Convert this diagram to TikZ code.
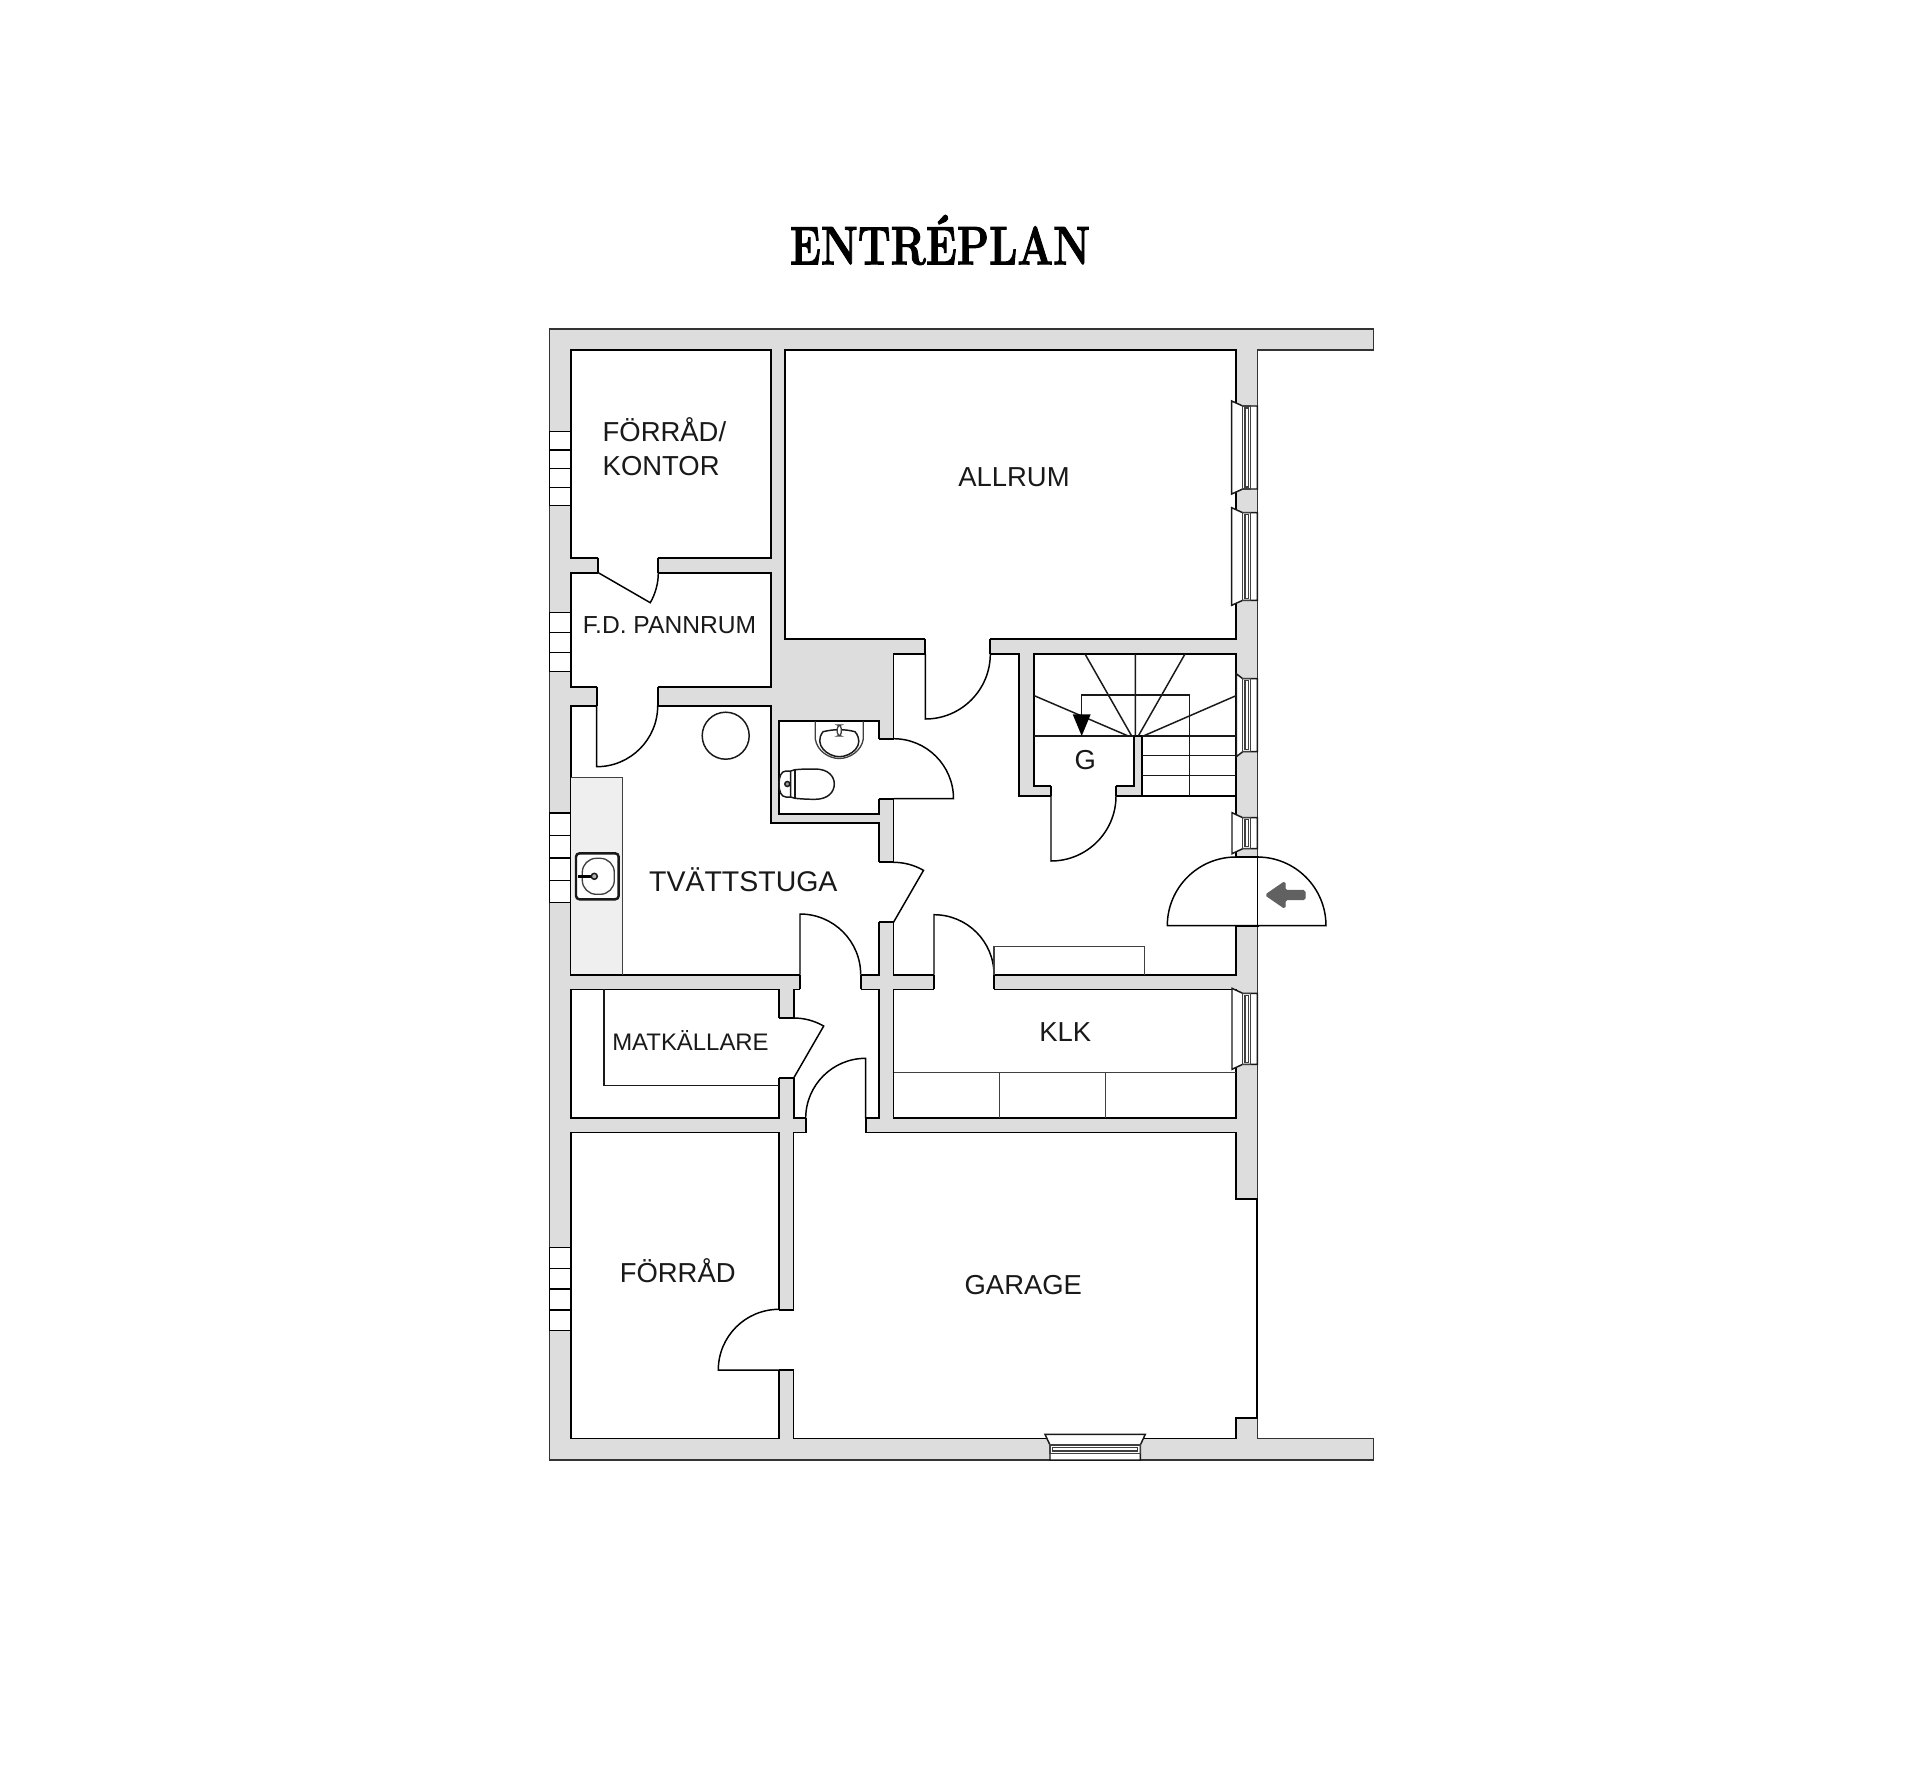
\documentclass[tikz,border=0pt]{standalone}
\usepackage{fontspec}
\setmainfont{Liberation Sans}
\newfontfamily\titlefont[BoldFeatures={FakeBold=2}]{Latin Modern Roman}
\usepackage{tikz}
\definecolor{wallgray}{HTML}{DDDDDD}
\definecolor{countergray}{HTML}{EFEFEF}
\tikzset{
  outerwall/.style={fill=wallgray, draw=black!80, line width=0.45pt},
  room/.style={fill=white, draw=black, line width=0.5pt, line join=miter},
  gap/.style={fill=white, draw=none},
  jamb/.style={draw=black, line width=0.5pt},
  door/.style={draw=black, line width=0.42pt},
  fixture/.style={draw=black!90, line width=0.42pt},
  thinline/.style={draw=black!75, line width=0.38pt},
  label/.style={font=\fontsize{7.8}{9.6}\selectfont, text=black!90, inner sep=0pt},
  smalllabel/.style={font=\fontsize{6.8}{8}\selectfont, text=black!90, inner sep=0pt},
}
\begin{document}
\begin{tikzpicture}[x=0.01cm, y=0.01cm, yscale=-1]
    \useasboundingbox (0,0) rectangle (1920,1787);
    % walls
    \draw[outerwall] (549.7,328.7) -- (1373.3,328.7) -- (1373.3,350) -- (1257.3,350) -- (1257.3,1438.5)
      -- (1373.3,1438.5) -- (1373.3,1460) -- (549.7,1460) -- cycle;
    % rooms
    \draw[room] (570.7,350) rectangle (770.7,558);
    \draw[room] (570.7,572.7) rectangle (770.7,686.7);
    \draw[room] (570.7,705.7) -- (770.7,705.7) -- (770.7,823) -- (879,823) -- (879,974.7) -- (570.7,974.7) -- cycle;
    \draw[room] (779,721.3) rectangle (879,814.3);
    \draw[room] (785,350) rectangle (1236,639.3);
    \draw[room] (893.5,654) -- (1019,654) -- (1019,795.7) -- (1236,795.7) -- (1236,974.7) -- (893.5,974.7) -- cycle;
    \draw[room] (1034.3,654) -- (1236,654) -- (1236,795.7) -- (1141.7,795.7) -- (1141.7,736) -- (1134.3,736)
      -- (1134.3,786) -- (1034.3,786) -- cycle;
    \draw[room] (893.5,989.4) rectangle (1236,1118.3);
    \draw[room] (570.7,989.4) rectangle (779,1118.3);
    \draw[room] (793.7,989.4) rectangle (878.7,1118.3);
    \draw[room] (570.7,1132.5) rectangle (779,1438.5);
    \draw[room] (793.5,1132.5) -- (1236,1132.5) -- (1236,1198.7) -- (1257.3,1198.7) -- (1257.3,1417.7)
      -- (1236,1417.7) -- (1236,1438.5) -- (793.5,1438.5) -- cycle;
    % door openings
    \foreach \xa/\xb/\ya/\yb in {598.3/658/558/572.7, 596.7/657.7/686.7/705.7, 925.3/990/639.3/654,
      1051/1115.7/786/795.7, 800/860.7/974.7/989.4, 934/994/974.7/989.4, 805.7/865.7/1118.3/1132.5} {
      \fill[gap] (\xa,\ya-1.5) rectangle (\xb,\yb+1.5);
      \draw[jamb] (\xa,\ya) -- (\xa,\yb) (\xb,\ya) -- (\xb,\yb);
    }
    \foreach \ya/\yb/\xa/\xb in {739/798.7/879/893.5, 862.3/922.3/879/893.5, 1018.3/1078/779/793.7,
      1310/1370/779/793.5, 857.3/925.7/1236/1258.5} {
      \fill[gap] (\xa-1.5,\ya) rectangle (\xb+1.5,\yb);
      \draw[jamb] (\xa,\ya) -- (\xb,\ya) (\xa,\yb) -- (\xb,\yb);
    }
    % door leaves
    \draw[door] (598.3,572.7) -- ++(30:60) arc[start angle=30, end angle=0, radius=60];
    \draw[door] (596.7,705.7) -- ++(90:61) arc[start angle=90, end angle=0, radius=61];
    \draw[door] (925.3,654) -- ++(90:65) arc[start angle=90, end angle=0, radius=65];
    \draw[door] (1051,796) -- ++(90:65) arc[start angle=90, end angle=0, radius=65];
    \draw[door] (800,974.7) -- ++(-90:60.7) arc[start angle=-90, end angle=0, radius=60.7];
    \draw[door] (934,974.7) -- ++(-90:60) arc[start angle=-90, end angle=0, radius=60];
    \draw[door] (865.7,1118.3) -- ++(-90:60) arc[start angle=-90, end angle=-180, radius=60];
    \draw[door] (893.5,798.7) -- ++(0:60) arc[start angle=0, end angle=-90, radius=60];
    \draw[door] (893.5,922.3) -- ++(-60:60) arc[start angle=-60, end angle=-90, radius=60];
    \draw[door] (793.7,1078) -- ++(-60:60) arc[start angle=-60, end angle=-90, radius=60];
    \draw[door] (779,1370) -- ++(180:60.7) arc[start angle=180, end angle=270, radius=60.7];
    % front door
    \draw[door] (1167.3,925.7) arc[start angle=180, end angle=270, radius=68.7] -- (1257.3,857)
      arc[start angle=270, end angle=360, radius=68.7] -- cycle;
    \draw[door] (1257.3,857) -- (1257.3,925.7);
    \fill[black!62, draw=black!62, line width=0.4pt, line join=round, rounded corners=0.5pt] (1265.7,895) -- (1285,881.7) -- (1285,890.5)
      -- (1305,890.5) -- (1305,899.5) -- (1285,899.5) -- (1285,908.3) -- cycle;
    % fittings
    \fill[countergray] (571.4,778.2) rectangle (622,974);
    \draw[thinline] (570.7,777.7) -- (622.3,777.7) -- (622.3,974.7);
    \draw[fixture, line width=0.7pt, fill=white, rounded corners=1pt] (576,853.3) rectangle (618.7,899.3);
    \draw[thinline, rounded corners=4pt] (582.3,858.3) rectangle (614.3,894.3);
    \draw[black, line width=0.9pt] (578,876.3) -- (594.3,876.3);
    \draw[fixture, fill=black!30] (594.3,876.3) circle[radius=3];
    \draw[fixture] (725.7,735.7) circle[radius=23.5];
    % windows, left wall
    \foreach \ya/\yb in {431.3/450, 450/468.7, 468.7/487.3, 487.3/505.3, 612.3/632.3, 632.3/652.3, 652.3/671.7,
      813/835.3, 835.3/858, 858/880.3, 880.3/902.3, 1247.7/1268.3, 1268.3/1289, 1289/1310, 1310/1330.3} {
      \draw[fill=white, draw=black, line width=0.42pt] (549.7,\ya) rectangle (570.7,\yb);
    }
    % windows, right wall
    \foreach \ya/\yb/\xf in {406/489/1231.7, 512.7/600.3/1231.7, 678.7/751.7/1236.3, 817.7/848.7/1232, 993.3/1064.3/1232} {
      \draw[fixture, fill=white] (\xf,\ya-5) -- (1242.7,\ya) -- (1257.3,\ya) -- (1257.3,\yb) -- (1242.7,\yb)
        -- (\xf,\yb+5) -- cycle;
      \draw[thinline] (1242.7,\ya) rectangle (1250.7,\yb) (1245,\ya+2) rectangle (1248.7,\yb-2);
    }
    % window, garage
    \draw[fixture, fill=white] (1045,1434.3) -- (1145.3,1434.3) -- (1140.3,1445) -- (1140.3,1460) -- (1050,1460)
      -- (1050,1445) -- cycle;
    \draw[thinline] (1050,1445) rectangle (1140.3,1453.3) (1052.5,1447.5) rectangle (1137.8,1451);
    % stairs
    \foreach \ya in {755.7, 775.7} {
      \draw[fixture] (1141.7,\ya) -- (1236,\ya);
    }
    \draw[fixture] (1034.3,736) -- (1134.3,736) (1141.7,736) -- (1236,736);
    \draw[fixture] (1189.3,795.7) -- (1189.3,695) -- (1081.7,695) -- (1081.7,720);
    \draw[fixture] (1034.3,695.7) -- (1128.3,736) (1085,654) -- (1131.7,736) (1135.3,654) -- (1135.3,736)
      (1185,654) -- (1138.3,736) (1236,695.7) -- (1143.3,736);
    \fill[black] (1081.7,736) -- (1072.7,714.3) -- (1090.7,714.3) -- cycle;
    % washbasin
    \draw[thinline] (815.3,721.3) -- (815.3,739) .. controls (817,751) and (829,758.5) .. (839.3,758.5)
      .. controls (849.5,758.5) and (861.5,751) .. (863.3,739) -- (863.3,721.3);
    \draw[fixture] (823,731.7) .. controls (813,745) and (828,756.7) .. (839.3,756.7)
      .. controls (851,756.7) and (866,745) .. (855,731.7) .. controls (845,729) and (834,729) .. (823,731.7) -- cycle;
    \draw[thinline, fill=white, rounded corners=1pt] (837.3,725) rectangle (841.3,736);
    % toilet
    \draw[fixture] (790.7,771) -- (786,771) .. controls (781,771) and (779,777) .. (779,784)
      .. controls (779,791) and (781,797) .. (786,797) -- (790.7,797) -- cycle;
    \draw[fixture] (790.7,771) -- (795,769.7) .. controls (802,769) and (808,769) .. (815,769)
      .. controls (828,769) and (834.3,776) .. (834.3,784) .. controls (834.3,792) and (828,799.3) .. (815,799.3)
      .. controls (808,799.3) and (802,799) .. (795,798.3) -- (790.7,797);
    \draw[fixture] (795,769.7) -- (795,798.3);
    \draw[fixture, fill=black!40] (787.3,784) circle[radius=2.5];
    % fixed furniture
    \draw[thinline] (994,974.7) -- (994,946.7) -- (1144.3,946.7) -- (1144.3,974.7);
    \draw[thinline] (893.5,1072.7) -- (1236,1072.7) (999.3,1072.7) -- (999.3,1118.3) (1105.7,1072.7) -- (1105.7,1118.3);
    \draw[fixture] (604,989.4) -- (604,1085.3) -- (779,1085.3);
    % labels
    \node[font=\titlefont\bfseries\fontsize{15.4}{18}\selectfont, inner sep=0pt] (title) at (940,240) {\scalebox{.775}[1]{ENTRÉPLAN}};
    \node[label, align=left, anchor=west] (forradkontor) at (602,447) {FÖRRÅD/\\KONTOR};
    \node[label] (allrum) at (1014,477.5) {ALLRUM};
    \node[smalllabel, font=\fontsize{7}{8}\selectfont] (pannrum) at (669.5,625.3) {F.D. PANNRUM};
    \node[label, font=\fontsize{8.1}{10}\selectfont] (tvatt) at (743.3,879.5) {TVÄTTSTUGA};
    \node[smalllabel] (matkallare) at (690.5,1040.5) {MATKÄLLARE};
    \node[label] (klk) at (1065.3,1032.3) {KLK};
    \node[label] (g) at (1085.3,760) {G};
    \node[label] (forrad) at (677.7,1271) {FÖRRÅD};
    \node[label] (garage) at (1023.3,1285.5) {GARAGE};
\end{tikzpicture}
\end{document}
